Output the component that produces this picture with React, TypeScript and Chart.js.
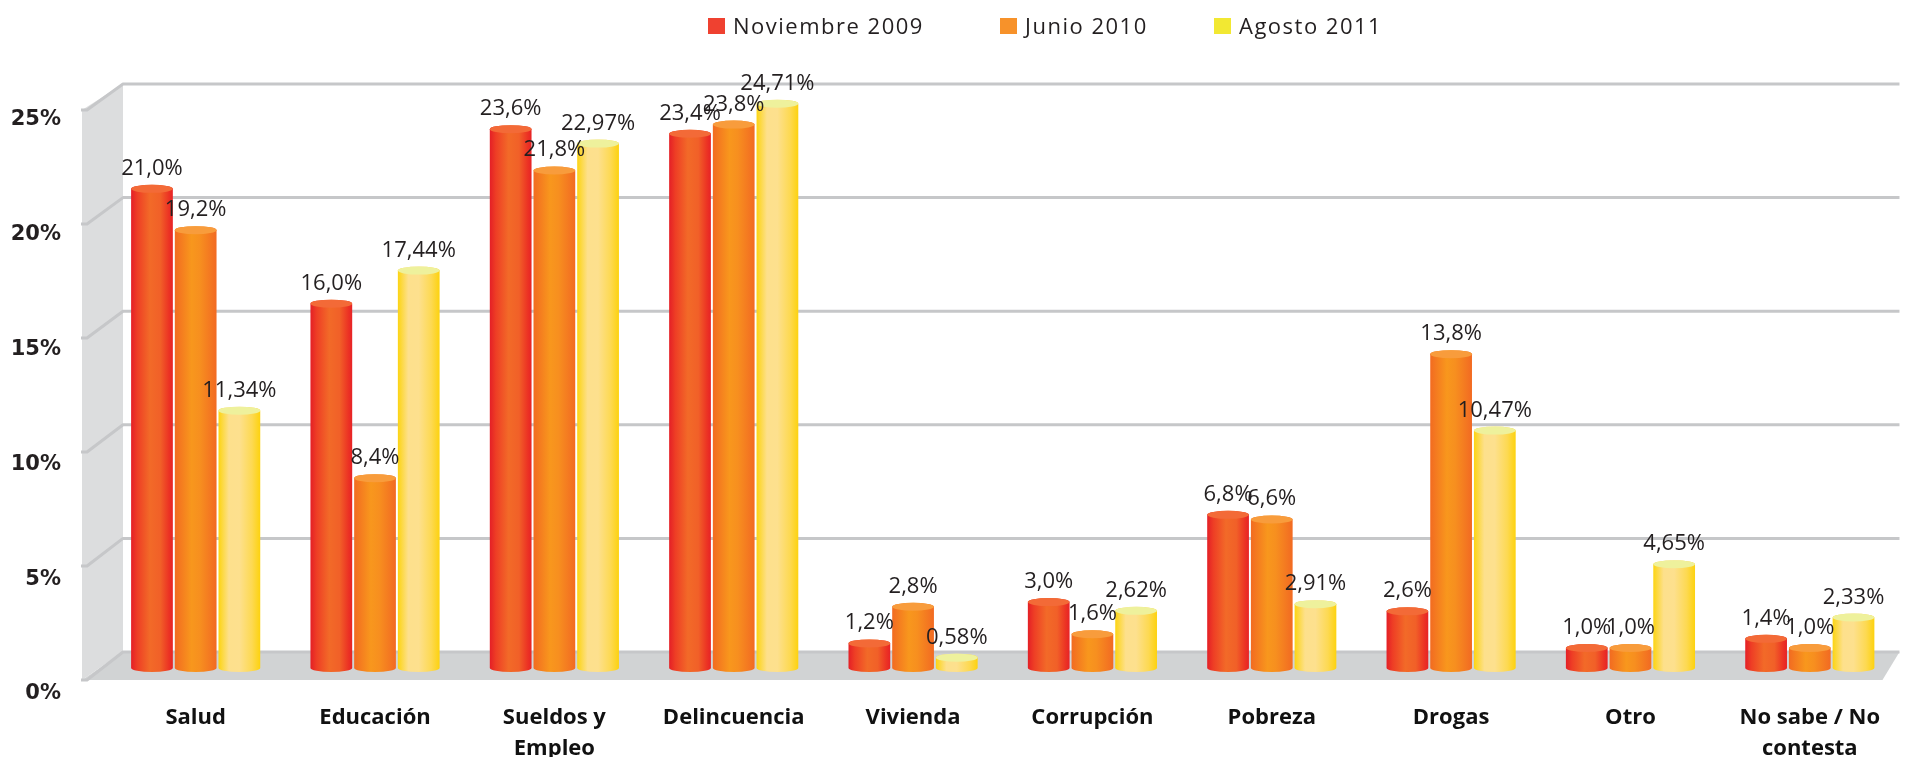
import React, { useEffect, useRef } from "react";
import { Chart, registerables } from "chart.js";

Chart.register(...registerables);

const categories: (string | string[])[] = [
  "Salud",
  "Educación",
  ["Sueldos y", "Empleo"],
  "Delincuencia",
  "Vivienda",
  "Corrupción",
  "Pobreza",
  "Drogas",
  "Otro",
  ["No sabe / No", "contesta"],
];
const seriesNames = ["Noviembre 2009", "Junio 2010", "Agosto 2011"];
const nov2009 = [21.0, 16.0, 23.6, 23.4, 1.2, 3.0, 6.8, 2.6, 1.0, 1.4];
const jun2010 = [19.2, 8.4, 21.8, 23.8, 2.8, 1.6, 6.6, 13.8, 1.0, 1.0];
const ago2011 = [11.34, 17.44, 22.97, 24.71, 0.58, 2.62, 2.91, 10.47, 4.65, 2.33];
const seriesDecimals = [1, 1, 2];
const yTickValues = [0, 5, 10, 15, 20, 25];

const legendColors = ["#ef4130", "#f7922a", "#f2e832"];
const bodyStops: [number, string][][] = [
  [[0, "#e41f26"], [0.15, "#ee3e25"], [0.45, "#f26a28"], [0.7, "#f16028"], [0.9, "#ec3424"], [1, "#e72226"]],
  [[0, "#f26b21"], [0.4, "#f8971d"], [0.6, "#f78f1f"], [1, "#f26a22"]],
  [[0, "#fcd412"], [0.25, "#fde08c"], [0.5, "#fde08e"], [0.8, "#fdd952"], [1, "#fdd20e"]],
];
const topColors = ["#f36a37", "#f89c3c", "#eef19c"];
const legendX = [708, 1000, 1214];

const threeDPlugin = {
  id: "threeD",
  beforeDatasetsDraw(chart: any) {
    const { ctx, chartArea: ca } = chart;
    const ys = chart.scales.y;
    const maxV = yTickValues[yTickValues.length - 1];
    const back = (v: number) => ys.getPixelForValue(v) - 19 + (6 * v) / maxV;
    const front = (v: number) => ys.getPixelForValue(v) + 9 + (4 * v) / maxV;
    const wallFront = ca.left - 24;
    const wallBack = ca.left + 17;
    ctx.save();
    // floor
    ctx.fillStyle = "#d1d3d4";
    ctx.beginPath();
    ctx.moveTo(wallFront, front(0));
    ctx.lineTo(wallBack, back(0));
    ctx.lineTo(ca.right, back(0));
    ctx.lineTo(ca.right - 17, front(0));
    ctx.closePath();
    ctx.fill();
    // left wall
    ctx.fillStyle = "#dcddde";
    ctx.beginPath();
    ctx.moveTo(wallFront, front(maxV));
    ctx.lineTo(wallBack, back(maxV));
    ctx.lineTo(wallBack, back(0));
    ctx.lineTo(wallFront, front(0));
    ctx.closePath();
    ctx.fill();
    // grid lines
    ctx.strokeStyle = "#c6c7c9";
    ctx.lineWidth = 3;
    ctx.lineJoin = "round";
    yTickValues.forEach((v) => {
      ctx.beginPath();
      ctx.moveTo(wallFront - 1, front(v));
      ctx.lineTo(wallFront + 5, front(v));
      ctx.lineTo(wallBack, back(v));
      ctx.lineTo(ca.right, back(v));
      ctx.stroke();
    });
    ctx.restore();
  },
  afterDatasetsDraw(chart: any) {
    const { ctx } = chart;
    ctx.save();
    chart.data.datasets.forEach((ds: any, di: number) => {
      const meta = chart.getDatasetMeta(di);
      meta.data.forEach((el: any) => {
        const { x, y: top, base, width } = el.getProps(["x", "y", "base", "width"], true);
        const rx = width / 2;
        const ry = 4;
        const bottomC = base - 3;
        const g = ctx.createLinearGradient(x - rx, 0, x + rx, 0);
        bodyStops[di].forEach(([o, c]) => g.addColorStop(o, c));
        ctx.beginPath();
        ctx.moveTo(x - rx, top);
        ctx.lineTo(x - rx, bottomC);
        ctx.ellipse(x, bottomC, rx, ry, 0, Math.PI, 0, true);
        ctx.lineTo(x + rx, top);
        ctx.ellipse(x, top, rx, ry, 0, 0, Math.PI, true);
        ctx.closePath();
        ctx.fillStyle = g;
        ctx.fill();
        ctx.beginPath();
        ctx.ellipse(x, top, rx, ry, 0, 0, Math.PI * 2);
        ctx.fillStyle = topColors[di];
        ctx.fill();
      });
    });
    // value labels
    ctx.font = '22px "Open Sans"';
    ctx.fillStyle = "#231f20";
    ctx.textAlign = "center";
    ctx.textBaseline = "alphabetic";
    chart.data.datasets.forEach((ds: any, di: number) => {
      const meta = chart.getDatasetMeta(di);
      meta.data.forEach((el: any, i: number) => {
        const { x, y } = el.getProps(["x", "y"], true);
        const txt = ds.data[i].toFixed(seriesDecimals[di]).replace(".", ",") + "%";
        ctx.fillText(txt, x, y - 14);
      });
    });
    ctx.restore();
  },
  afterDraw(chart: any) {
    const { ctx } = chart;
    ctx.save();
    ctx.font = '22px "Open Sans"';
    try {
      (ctx as any).letterSpacing = "1.5px";
    } catch (e) {}
    ctx.textAlign = "left";
    ctx.textBaseline = "alphabetic";
    seriesNames.forEach((name, i) => {
      const x = legendX[i];
      ctx.fillStyle = legendColors[i];
      ctx.fillRect(x, 18, 17, 16);
      ctx.fillStyle = "#231f20";
      ctx.fillText(name, x + 25, 33.5);
    });
    ctx.restore();
  },
};

export default function App() {
  const ref = useRef<HTMLCanvasElement | null>(null);
  useEffect(() => {
    if (!ref.current) return;
    const series = [nov2009, jun2010, ago2011];
    const chart = new Chart(ref.current, {
      type: "bar",
      data: {
        labels: categories as any,
        datasets: series.map((d, i) => ({
          label: seriesNames[i],
          data: d,
          backgroundColor: "rgba(0,0,0,0)",
          borderWidth: 0,
          categoryPercentage: 0.731,
          barPercentage: 0.955,
        })),
      },
      options: {
        animation: false,
        responsive: true,
        maintainAspectRatio: false,
        devicePixelRatio: 1,
        layout: { padding: { top: 97, left: 0, right: 0, bottom: 0 } },
        plugins: { legend: { display: false }, tooltip: { enabled: false } },
        scales: {
          x: {
            grid: { display: false, drawTicks: false },
            border: { display: false },
            ticks: {
              font: { family: '"Open Sans"', size: 22, weight: "bold", lineHeight: 1.38 },
              color: "#111111",
              padding: 32,
              maxRotation: 0,
              minRotation: 0,
              autoSkip: false,
            },
            afterFit: (s: any) => {
              s.height = 86;
            },
          },
          y: {
            min: 0,
            max: 25,
            grid: { display: false, drawTicks: false },
            border: { display: false },
            afterBuildTicks: (s: any) => {
              s.ticks = yTickValues.map((v) => ({ value: v }));
            },
            ticks: {
              callback: (v: any) => v + "%",
              font: { family: '"DejaVu Sans"', size: 21, weight: "bold" },
              color: "#231f20",
              padding: 45,
              labelOffset: 23,
            },
            afterFit: (s: any) => {
              s.width = 106;
            },
          },
        },
      },
      plugins: [threeDPlugin],
    });
    return () => chart.destroy();
  }, []);
  return (
    <div style={{ position: "fixed", left: 0, top: 0, width: 1912, height: 757, background: "#fff" }}>
      <canvas ref={ref} />
    </div>
  );
}
